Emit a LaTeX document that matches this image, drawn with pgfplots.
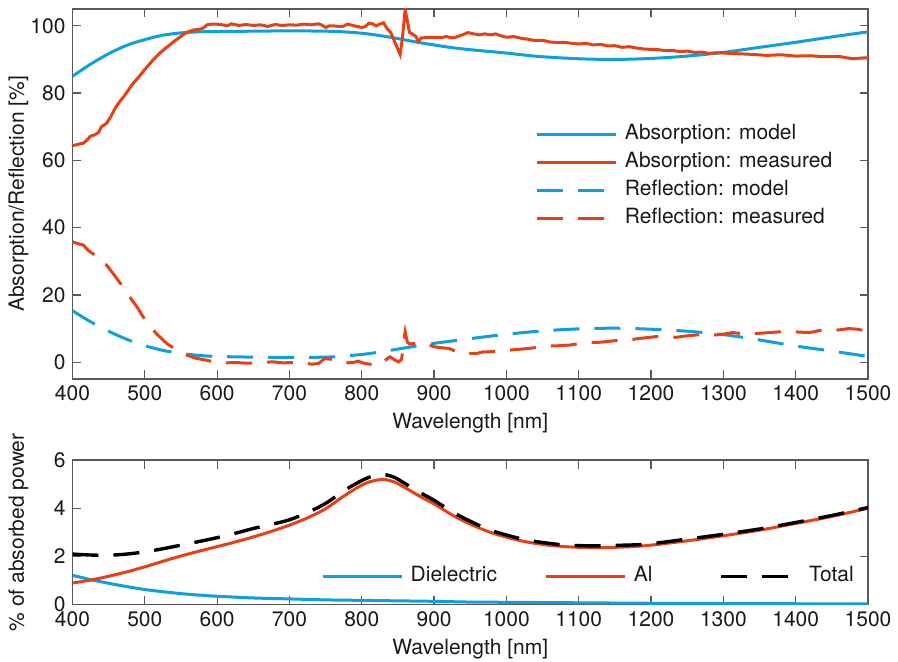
\documentclass[border=0pt]{standalone}
\usepackage{fontspec}
\setmainfont{TeX Gyre Heros}
\usepackage{pgfplots}
\pgfplotsset{compat=1.18}
\definecolor{mblue}{RGB}{14,160,222}
\definecolor{mred}{RGB}{232,64,20}
\pgfplotsset{
  myaxis/.style={
    scale only axis, width=397.75pt,
    xmin=400, xmax=1500, xtick={400,500,...,1500},
    axis line style={black!65, line width=0.6pt},
    every tick/.style={black!65, line width=0.6pt},
    major tick length=4.25pt,
    tick align=inside,
    ticklabel style={font=\fontsize{10.5pt}{12pt}\selectfont, text=black!90},
    label style={font=\fontsize{10.5pt}{12pt}\selectfont, text=black!90},
    /pgf/number format/assume math mode=true,
    /pgf/number format/1000 sep={},
    xlabel={Wavelength [nm]},
    xlabel style={at={(axis description cs:0.5,0)}, anchor=center, yshift=-22pt},
    ylabel style={at={(axis description cs:-0.068,0.5)}, anchor=center},
    legend cell align=left,
    legend image code/.code={\draw[##1] (0pt,0pt) -- (39.5pt,0pt);},
    legend style={draw=none, fill=none, inner sep=0pt, outer sep=0pt, row sep=0pt,
      nodes={inner xsep=0pt, inner ysep=2pt, text height=7.5pt, text depth=2.5pt,
             font=\fontsize{10.5pt}{12pt}\selectfont, text=black!90},
      /tikz/every odd column/.append style={column sep=3.5pt}},
  }
}
\begin{document}
\begin{tikzpicture}
\path[use as bounding box] (0,0) rectangle (449pt,-331pt);
\begin{axis}[myaxis, at={(36.25pt,-4.5pt)}, anchor=north west, height=185pt,
  ymin=-5, ymax=105, ytick={0,20,...,100},
  ylabel={Absorption/Reflection [\%]},
  legend style={at={(axis description cs:0.5825,0.6987)}, anchor=north west}]
\addplot[mblue, line width=1.5pt, smooth] coordinates {
(400,85.0)(425,88.6)(450,91.7)(475,94.2)(500,95.9)(525,97.2)(550,97.9)(575,98.2)(600,98.3)(650,98.4)(700,98.5)(750,98.4)(775,98.2)(800,97.8)(825,97.1)(850,96.2)(875,95.2)(900,94.3)(925,93.5)(950,92.9)(975,92.4)(1000,91.9)(1025,91.3)(1050,90.8)(1100,90.2)(1150,90.0)(1200,90.3)(1250,91.0)(1300,92.1)(1350,93.6)(1400,95.1)(1450,96.7)(1500,98.2)};
\addlegendentry{Absorption: model}
\addplot[mred, line width=1.5pt] coordinates {
(400,64.4)(405,64.6)(410,64.9)(415,65.1)(420,66.0)(425,67.2)(431,67.6)(436,68.3)(440,70.0)(447,71.0)(453,73.0)(459,75.5)(465,77.4)(471,79.0)(477,80.8)(482,82.4)(488,83.9)(494,85.4)(500,87.0)(506,88.5)(512,90.0)(517,91.1)(523,92.3)(529,93.4)(535,94.4)(540,95.3)(547,96.4)(554,97.5)(561,98.3)(568,98.8)(577,99.0)(582,99.5)(586,100.3)(593,100.5)(600,100.5)(607,100.3)(614,100.0)(620,100.6)(630,100.1)(640,100.4)(650,100.1)(660,100.3)(670,99.8)(680,100.4)(690,100.1)(700,100.3)(710,100.2)(720,100.5)(730,100.3)(740,100.6)(745,100.2)(750,99.5)(755,100.0)(760,100.0)(770,99.8)(775,99.9)(780,100.5)(790,100.0)(800,99.5)(805,99.8)(810,100.8)(815,100.6)(820,100.0)(825,100.5)(830,100.9)(835,99.2)(840,98.0)(845,95.5)(850,93.0)(853,91.5)(856,96.0)(860,104.8)(863,101.5)(866,98.0)(870,97.6)(875,96.8)(878,95.3)(882,96.4)(890,96.5)(900,96.6)(910,96.5)(917,96.8)(925,96.4)(930,96.6)(940,97.4)(947,98.0)(955,97.6)(963,97.3)(970,97.6)(978,97.3)(985,97.6)(993,97.0)(1000,96.6)(1010,96.8)(1020,96.3)(1030,96.0)(1040,95.6)(1050,95.7)(1060,95.2)(1070,95.0)(1080,95.1)(1090,94.8)(1100,94.6)(1110,94.8)(1120,94.3)(1130,94.5)(1140,94.0)(1150,94.1)(1160,93.6)(1170,93.8)(1180,93.4)(1190,93.1)(1200,93.0)(1210,92.9)(1220,92.6)(1230,92.7)(1240,92.3)(1250,92.5)(1260,92.1)(1270,92.2)(1280,91.8)(1290,92.0)(1300,91.9)(1320,91.7)(1340,91.5)(1360,91.2)(1380,91.4)(1400,91.0)(1420,91.1)(1440,90.8)(1460,90.9)(1470,90.5)(1480,90.2)(1490,90.4)(1500,90.5)};
\addlegendentry{Absorption: measured}
\addplot[mblue, line width=1.5pt, dash pattern=on 13pt off 7.5pt, smooth] coordinates {
(400,15.3)(425,12.0)(450,9.2)(475,6.8)(500,4.9)(525,3.5)(550,2.6)(575,2.0)(600,1.7)(650,1.5)(700,1.4)(750,1.5)(775,1.8)(800,2.3)(825,3.0)(850,3.9)(875,4.8)(900,5.6)(925,6.3)(950,7.0)(1000,8.3)(1050,9.3)(1100,9.9)(1150,10.1)(1200,9.8)(1250,9.2)(1300,8.2)(1350,6.6)(1400,4.8)(1450,3.3)(1500,1.7)};
\addlegendentry{Reflection: model}
\addplot[mred, line width=1.5pt, dash pattern=on 13pt off 7.5pt] coordinates {
(400,35.8)(408,35.2)(415,34.8)(422,33.2)(431,31.8)(438,29.9)(447,28.9)(456,26.4)(468,22.9)(479,19.4)(489,16.5)(502,12.0)(516,8.5)(530,5.6)(544,3.6)(558,2.1)(572,1.1)(585,0.6)(599,-0.1)(613,-0.2)(627,-0.1)(640,-0.3)(659,-0.2)(668,0.0)(677,0.1)(692,-0.2)(705,-0.1)(719,-0.2)(731,-0.6)(740,-0.4)(749,1.1)(760,0.8)(774,0.6)(781,-0.2)(788,-0.1)(795,0.3)(804,-0.4)(815,-0.7)(825,-0.8)(832,0.5)(839,1.6)(846,0.6)(851,0.1)(855,0.8)(858,6.0)(860,9.0)(863,6.0)(866,5.4)(872,5.6)(880,5.6)(887,5.8)(893,5.2)(899,4.6)(910,4.3)(920,4.1)(930,3.2)(943,2.4)(950,2.6)(959,2.6)(968,3.1)(977,3.1)(990,3.3)(1000,3.5)(1016,3.8)(1032,4.1)(1046,4.5)(1060,4.8)(1074,4.9)(1088,5.1)(1102,5.6)(1115,5.9)(1127,5.9)(1138,6.1)(1155,6.5)(1175,6.8)(1190,7.2)(1207,7.6)(1220,7.5)(1235,7.4)(1248,7.8)(1263,8.1)(1277,8.0)(1290,8.1)(1302,8.4)(1313,8.8)(1325,8.5)(1336,8.3)(1350,8.6)(1364,8.8)(1382,9.1)(1400,9.0)(1419,8.8)(1433,9.4)(1445,9.3)(1460,9.6)(1474,10.0)(1485,9.8)(1497,9.3)(1500,9.4)};
\addlegendentry{Reflection: measured}
\end{axis}
\begin{axis}[myaxis, at={(36.25pt,-230pt)}, anchor=north west, height=72.35pt,
  ymin=0, ymax=6, ytick={0,2,4,6},
  ylabel={\% of absorbed power},
  legend columns=-1,
  legend style={at={(axis description cs:0.3133,0.1935)}, anchor=west,
    /tikz/column 2/.style={column sep=23.85pt},
    /tikz/column 4/.style={column sep=33.65pt}}]
\addplot[mblue, line width=1.5pt, smooth] coordinates {
(400,1.22)(425,1.04)(450,0.89)(475,0.75)(500,0.63)(525,0.54)(550,0.46)(575,0.40)(600,0.35)(650,0.28)(700,0.24)(750,0.20)(800,0.18)(850,0.16)(900,0.14)(950,0.11)(1000,0.10)(1100,0.08)(1200,0.06)(1300,0.05)(1400,0.04)(1500,0.03)};
\addlegendentry{Dielectric}
\addplot[mred, line width=1.5pt, smooth] coordinates {
(400,0.90)(425,1.02)(450,1.18)(475,1.36)(500,1.57)(525,1.80)(550,2.02)(575,2.22)(600,2.41)(625,2.60)(650,2.81)(675,3.04)(700,3.30)(725,3.60)(750,3.98)(775,4.50)(800,4.96)(815,5.13)(830,5.19)(845,5.09)(860,4.85)(880,4.50)(900,4.18)(925,3.72)(950,3.34)(975,3.03)(1000,2.80)(1025,2.62)(1050,2.50)(1075,2.42)(1100,2.38)(1125,2.37)(1150,2.38)(1175,2.41)(1200,2.47)(1250,2.65)(1300,2.86)(1350,3.09)(1400,3.37)(1450,3.66)(1500,4.00)};
\addlegendentry{Al}
\addplot[black, line width=1.7pt, dash pattern=on 13pt off 7.5pt, smooth] coordinates {
(400,2.10)(425,2.06)(450,2.05)(475,2.10)(500,2.19)(525,2.32)(550,2.47)(575,2.62)(600,2.78)(625,2.96)(650,3.16)(675,3.33)(700,3.52)(725,3.82)(750,4.20)(775,4.72)(800,5.15)(815,5.33)(830,5.40)(845,5.28)(860,5.02)(880,4.66)(900,4.33)(925,3.85)(950,3.46)(975,3.12)(1000,2.89)(1025,2.70)(1050,2.58)(1075,2.49)(1100,2.45)(1125,2.44)(1150,2.46)(1175,2.48)(1200,2.53)(1250,2.72)(1300,2.92)(1350,3.14)(1400,3.41)(1450,3.70)(1500,4.03)};
\addlegendentry{Total}
\end{axis}
\end{tikzpicture}
\end{document}
